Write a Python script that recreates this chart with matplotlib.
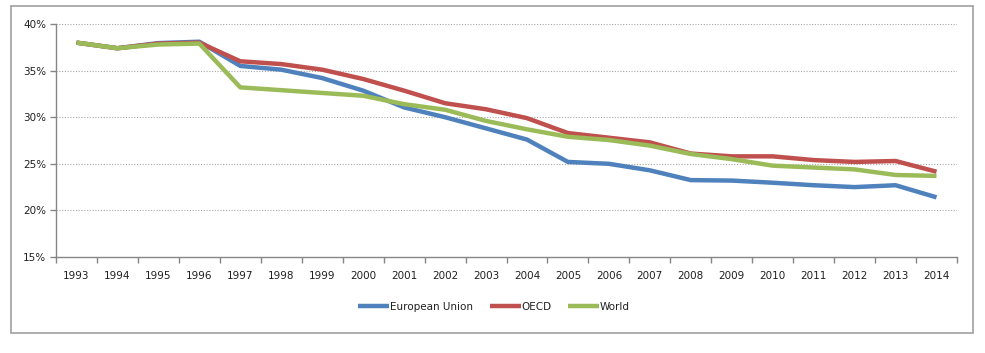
import matplotlib
matplotlib.use("Agg")
import matplotlib.pyplot as plt
from matplotlib.patches import Rectangle
import numpy as np

years = ["1993", "1994", "1995", "1996", "1997", "1998", "1999", "2000", "2001", "2002", "2003",
         "2004", "2005", "2006", "2007", "2008", "2009", "2010", "2011", "2012", "2013", "2014"]
eu = [38.0, 37.4, 37.95, 38.1, 35.5, 35.1, 34.2, 32.85, 31.05, 30.0, 28.8,
      27.6, 25.2, 25.0, 24.3, 23.25, 23.2, 22.97, 22.7, 22.5, 22.7, 21.4]
oecd = [38.0, 37.4, 37.9, 38.0, 36.0, 35.7, 35.1, 34.1, 32.85, 31.5, 30.85,
        29.9, 28.3, 27.8, 27.3, 26.1, 25.8, 25.8, 25.4, 25.2, 25.3, 24.15]
world = [38.0, 37.4, 37.8, 37.9, 33.2, 32.9, 32.6, 32.3, 31.4, 30.8, 29.6,
         28.7, 27.9, 27.55, 26.95, 26.05, 25.5, 24.8, 24.6, 24.4, 23.8, 23.7]
yticks = [15, 20, 25, 30, 35, 40]
ytick_labels = ["15%", "20%", "25%", "30%", "35%", "40%"]
series_names = ["European Union", "OECD", "World"]
colors = ["#4F81BD", "#C0504D", "#9BBB59"]

W, H = 985, 353
fig = plt.figure(figsize=(W / 100, H / 100), dpi=100)
fig.patch.set_facecolor("white")
fig.patches.append(Rectangle((11 / W, 1 - 333 / H), (973 - 11) / W, (333 - 6) / H,
                             transform=fig.transFigure, fill=False, edgecolor="#A0A0A0", lw=1.2))

ax = fig.add_axes([56 / W, 1 - 257 / H, (957 - 56) / W, (257 - 24) / H])
x = np.arange(len(years))
for vals, name, c in zip([eu, oecd, world], series_names, colors):
    ax.plot(x, vals, color=c, lw=3.2, label=name, solid_capstyle="butt", solid_joinstyle="round")

ax.set_xlim(-0.5, len(years) - 0.5)
ax.set_ylim(15, 40)
ax.set_yticks(yticks)
ax.set_yticklabels(ytick_labels)
for yv in yticks[1:]:
    ax.axhline(yv, color="#A8A8A8", lw=0.8, ls=(0, (1, 1.5)), zorder=0)

ax.set_xticks(np.arange(-0.5, len(years), 1.0))
ax.set_xticklabels([])
ax.set_xticks(x, minor=True)
ax.set_xticklabels(years, minor=True)
ax.tick_params(axis="x", which="major", length=4, color="#868686", width=1)
ax.tick_params(axis="x", which="minor", length=0, pad=10, labelsize=7.5, labelcolor="#202020")
ax.tick_params(axis="y", length=4, color="#868686", width=1, pad=3, labelsize=7.5, labelcolor="#202020")

for s in ["top", "right"]:
    ax.spines[s].set_visible(False)
for s in ["left", "bottom"]:
    ax.spines[s].set_color("#868686")
    ax.spines[s].set_linewidth(1)

leg = fig.legend(loc="center", bbox_to_anchor=(494 / W, 1 - 307 / H), ncol=3, frameon=False,
                 fontsize=7.5, handlelength=3.0, handletextpad=0.05, columnspacing=1.6)
for t in leg.get_texts():
    t.set_color("#202020")

fig.savefig("out.png", dpi=100)
